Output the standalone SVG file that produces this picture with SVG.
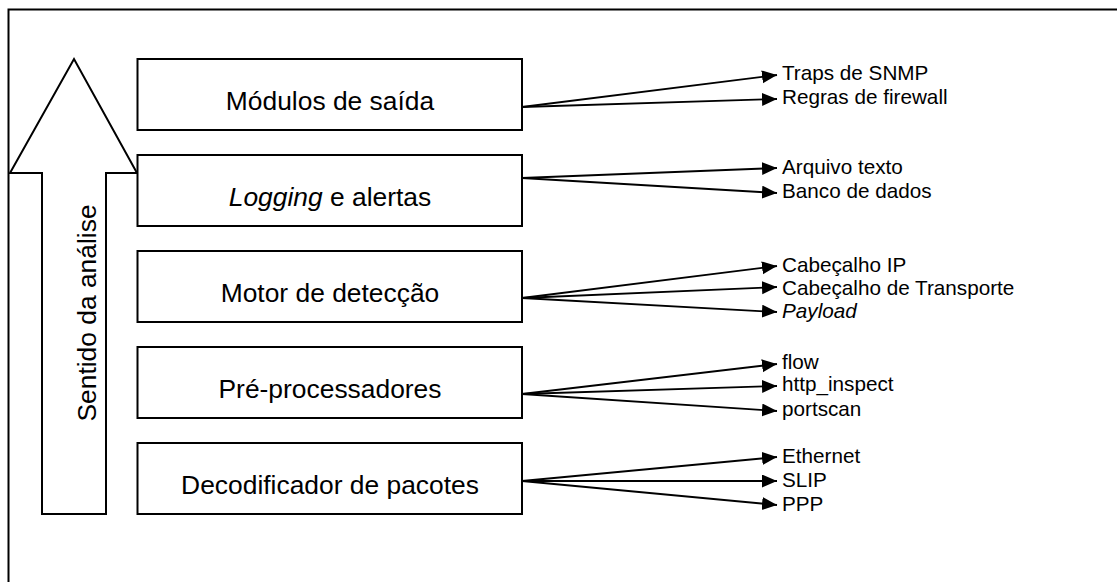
<svg xmlns="http://www.w3.org/2000/svg" width="1117" height="582" viewBox="0 0 1117 582">
<defs>
<style>
.frame{fill:none;stroke:#000;stroke-width:2}
.box{fill:#fff;stroke:#000;stroke-width:2}
.big{font-family:"Liberation Sans",Arial,sans-serif;font-size:26.4px;fill:#000}
.lbl{font-family:"Liberation Sans",Arial,sans-serif;font-size:20.7px;fill:#000}
.con{fill:none;stroke:#000;stroke-width:1.8}
</style>
<marker id="ah" markerUnits="userSpaceOnUse" markerWidth="16" markerHeight="14" refX="15" refY="6.5" orient="auto">
<path d="M0,0 L15,6.5 L0,13 z" fill="#000"/>
</marker>
</defs>
<rect width="1117" height="582" fill="#fff"/>
<path class="frame" d="M8.5,590 V9.5 H1125"/>
<g id="arrow-sentido">
<polygon class="box" points="42,514 42,173 10,173 74,59 137,173 106,173 106,514"/>
<text class="big" transform="translate(96,313) rotate(-90)" text-anchor="middle">Sentido da análise</text>
</g>
<g id="node-modulos">
<rect class="box" x="137.5" y="59" width="384.5" height="71"/>
<text class="big" x="330" y="110" text-anchor="middle">Módulos de saída</text>
</g>
<g id="node-logging">
<rect class="box" x="137.5" y="155" width="384.5" height="71"/>
<text class="big" x="330" y="206" text-anchor="middle"><tspan font-style="italic">Logging</tspan> e alertas</text>
</g>
<g id="node-motor">
<rect class="box" x="137.5" y="251" width="384.5" height="71"/>
<text class="big" x="330" y="302" text-anchor="middle">Motor de detecção</text>
</g>
<g id="node-pre">
<rect class="box" x="137.5" y="347" width="384.5" height="71"/>
<text class="big" x="330" y="398" text-anchor="middle">Pré-processadores</text>
</g>
<g id="node-decod">
<rect class="box" x="137.5" y="443" width="384.5" height="71"/>
<text class="big" x="330" y="494" text-anchor="middle">Decodificador de pacotes</text>
</g>
<g id="connectors">
<line class="con" x1="522" y1="107" x2="777" y2="75" marker-end="url(#ah)"/>
<line class="con" x1="522" y1="107" x2="777" y2="99" marker-end="url(#ah)"/>
<line class="con" x1="522" y1="178" x2="777" y2="168" marker-end="url(#ah)"/>
<line class="con" x1="522" y1="178" x2="777" y2="193" marker-end="url(#ah)"/>
<line class="con" x1="522" y1="298" x2="777" y2="266" marker-end="url(#ah)"/>
<line class="con" x1="522" y1="298" x2="777" y2="287" marker-end="url(#ah)"/>
<line class="con" x1="522" y1="298" x2="777" y2="312" marker-end="url(#ah)"/>
<line class="con" x1="522" y1="394" x2="777" y2="364" marker-end="url(#ah)"/>
<line class="con" x1="522" y1="394" x2="777" y2="386" marker-end="url(#ah)"/>
<line class="con" x1="522" y1="394" x2="777" y2="411" marker-end="url(#ah)"/>
<line class="con" x1="522" y1="481" x2="777" y2="457" marker-end="url(#ah)"/>
<line class="con" x1="522" y1="481" x2="777" y2="481" marker-end="url(#ah)"/>
<line class="con" x1="522" y1="481" x2="777" y2="505" marker-end="url(#ah)"/>
</g>
<g id="labels">
<text class="lbl" x="782" y="80">Traps de SNMP</text>
<text class="lbl" x="782" y="104">Regras de firewall</text>
<text class="lbl" x="782" y="174">Arquivo texto</text>
<text class="lbl" x="782" y="198">Banco de dados</text>
<text class="lbl" x="782" y="272">Cabeçalho IP</text>
<text class="lbl" x="782" y="295">Cabeçalho de Transporte</text>
<text class="lbl" x="782" y="318" font-style="italic">Payload</text>
<text class="lbl" x="782" y="369">flow</text>
<text class="lbl" x="782" y="391">http_inspect</text>
<text class="lbl" x="782" y="416">portscan</text>
<text class="lbl" x="782" y="463">Ethernet</text>
<text class="lbl" x="782" y="487">SLIP</text>
<text class="lbl" x="782" y="511">PPP</text>
</g>
</svg>
